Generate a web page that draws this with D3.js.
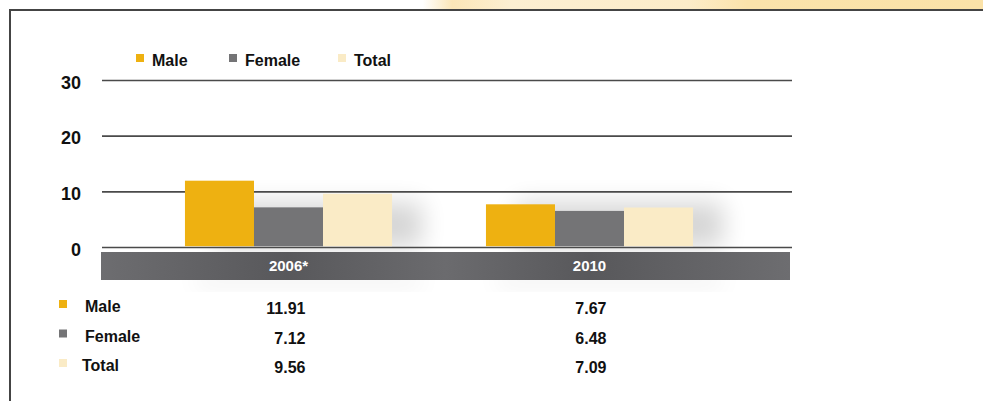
<!DOCTYPE html>
<html>
<head>
<meta charset="utf-8">
<script src="https://cdn.jsdelivr.net/npm/d3@7"></script>
<style>
  body { margin: 0; background: #fff; }
  svg text { font-family: "Liberation Sans", Arial, sans-serif; font-weight: bold; }
</style>
</head>
<body>
<svg id="chart"></svg>
<script>
/* données */
const categories = ['2006*', '2010']
const seriesNames = ['Male', 'Female', 'Total']
const male = [11.91, 7.67]
const female = [7.12, 6.48]
const total = [9.56, 7.09]
const yTicks = [0, 10, 20, 30]
const colors = ['#eeb111', '#747476', '#faebc6']

const width = 983, height = 401
const plot = {left: 102, right: 792, top: 80, bottom: 247}

const svg = d3.select('#chart').attr('width', width).attr('height', height)
const defs = svg.append('defs')

// flou pour les ombres
defs.append('filter').attr('id', 'blur').attr('x', '-50%').attr('y', '-50%')
    .attr('width', '200%').attr('height', '200%')
    .append('feGaussianBlur').attr('stdDeviation', 12)

const rows = seriesNames.map((name, i) => ({name, values: [male, female, total][i], color: colors[i]}))

/* échelles */
const yScale = d3.scaleLinear().domain([0, 30]).range([plot.bottom, plot.top])
const x0 = d3.scaleBand().domain(categories).range([138, 740]).paddingInner(0.312).paddingOuter(0.156)
const x1 = d3.scaleBand().domain(seriesNames).range([0, x0.bandwidth()])

/* bandeau crème en haut à droite */
const topGrad = defs.append('linearGradient').attr('id', 'topGrad')
topGrad.selectAll('stop')
    .data([[0.43, '#ffffff'], [0.46, '#fbe6b8'], [0.52, '#fcefd2'], [0.7, '#fcecc9'], [0.76, '#fbe3ab'], [1, '#fbe2a8']])
    .join('stop').attr('offset', d => d[0]).attr('stop-color', d => d[1])
svg.append('rect').attr('x', 0).attr('y', 0).attr('width', width).attr('height', 10)
   .attr('fill', 'url(#topGrad)')

/* cadre */
svg.append('path').attr('d', `M10,${height} V10 H${width}`)
   .attr('fill', 'none').attr('stroke', '#444').attr('stroke-width', 2)

/* ombres derrière les barres */
categories.forEach((c) => {
    svg.append('rect').attr('x', x0(c) + 30).attr('y', yScale(8))
       .attr('width', x0.bandwidth()).attr('height', yScale(0) - yScale(8))
       .attr('fill', '#000').attr('opacity', 0.16).attr('filter', 'url(#blur)')
    svg.append('rect').attr('x', x0(c) + 10).attr('y', 274)
       .attr('width', x0.bandwidth() + 20).attr('height', 12)
       .attr('fill', '#000').attr('opacity', 0.07).attr('filter', 'url(#blur)')
})

/* grille */
const yAxis = d3.axisLeft(yScale).tickValues(yTicks)
    .tickSize(-(plot.right - plot.left)).tickPadding(21)
svg.append('g').attr('transform', `translate(${plot.left},0)`).call(yAxis)
   .call(g => g.select('.domain').remove())
   .call(g => g.selectAll('line').attr('stroke', '#4a4a4a').attr('stroke-width', 1.6))
   .call(g => g.selectAll('text').attr('fill', '#111').style('font-size', '18px').attr('dy', '0.45em'))

/* barres */
const groups = svg.append('g').selectAll('g').data(categories).join('g')
    .attr('transform', c => `translate(${x0(c)},0)`)
groups.selectAll('rect')
    .data((c, ci) => rows.map(r => ({name: r.name, value: r.values[ci], color: r.color})))
    .join('rect')
    .attr('x', d => x1(d.name))
    .attr('y', d => yScale(d.value))
    .attr('width', x1.bandwidth())
    .attr('height', d => yScale(0) - yScale(d.value) - 0.8)
    .attr('fill', d => d.color)

/* bandeau des catégories */
const bandGrad = defs.append('linearGradient').attr('id', 'bandGrad')
bandGrad.selectAll('stop')
    .data([[0, '#6d6d70'], [0.27, '#58585b'], [0.5, '#6b6b6e'], [0.71, '#58585b'], [1, '#6d6d70']])
    .join('stop').attr('offset', d => d[0]).attr('stop-color', d => d[1])
svg.append('rect').attr('x', plot.left - 1).attr('y', 252)
   .attr('width', plot.right - plot.left - 1).attr('height', 28)
   .attr('fill', 'url(#bandGrad)')
const xAxis = d3.axisBottom(x0).tickSize(0).tickPadding(0)
svg.append('g').attr('transform', 'translate(0,266)').call(xAxis)
   .call(g => g.select('.domain').remove())
   .call(g => g.selectAll('text').attr('fill', '#fff').attr('dy', '0.35em').style('font-size', '15px'))

/* légende du haut */
const legendX = [136, 229, 338]
const legend = svg.append('g').selectAll('g').data(rows).join('g')
    .attr('transform', (d, i) => `translate(${legendX[i]},54)`)
legend.append('rect').attr('width', 8).attr('height', 8).attr('fill', d => d.color)
legend.append('text').attr('x', 16).attr('y', 12).attr('fill', '#111')
      .style('font-size', '16px').text(d => d.name)

/* tableau des valeurs */
const tableY = d3.scalePoint().domain(seriesNames).range([312, 371])
const table = svg.append('g').selectAll('g').data(rows).join('g')
    .attr('transform', d => `translate(0,${tableY(d.name)})`)
table.append('rect').attr('x', 59).attr('y', -12).attr('width', 8).attr('height', 8)
     .attr('fill', d => d.color)
table.append('text').attr('x', (d, i) => i === 2 ? 82 : 85).attr('y', 0).attr('fill', '#111')
     .style('font-size', '16px').text(d => d.name)
table.selectAll('text.val')
    .data(d => d.values.map((v, ci) => ({v, c: categories[ci]})))
    .join('text').attr('class', 'val')
    .attr('x', d => x0(d.c) + x0.bandwidth() / 2 + 17)
    .attr('y', 2).attr('text-anchor', 'end').attr('fill', '#111')
    .style('font-size', '16px').text(d => d.v.toFixed(2))
</script>
</body>
</html>
